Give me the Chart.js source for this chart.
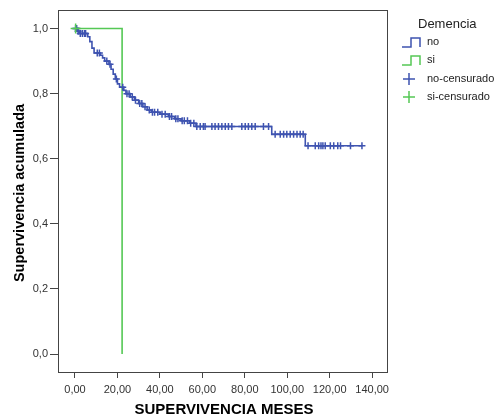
<!DOCTYPE html>
<html>
<head>
<meta charset="utf-8">
<script src="https://cdn.jsdelivr.net/npm/chart.js@4.4.1/dist/chart.umd.min.js"></script>
<style>
  html, body { margin: 0; padding: 0; background: #fff; }
</style>
</head>
<body>
<canvas id="km" width="500" height="420"></canvas>
<script>
// Kaplan-Meier data (months, cumulative survival)
const noEventTimes = [0, 1, 2, 6, 7, 8, 9, 12, 13, 14, 16, 17, 18, 19, 20, 21, 23, 24, 26, 28, 30, 32, 34, 36, 40, 44, 47, 50, 54, 57, 92.7, 108.5];
const noSurvival   = [1.0, 0.992, 0.985, 0.975, 0.96, 0.94, 0.925, 0.918, 0.91, 0.90, 0.89, 0.875, 0.86, 0.845, 0.83, 0.82, 0.81, 0.80, 0.79, 0.78, 0.77, 0.76, 0.75, 0.743, 0.737, 0.73, 0.723, 0.717, 0.709, 0.699, 0.675, 0.640];
const noCensored = [
  0.3, 0.8, 1.5, 2.5, 3.5, 4.5, 5, 10.5, 11.5, 15, 16.5, 19.5, 22.5, 24.5, 25.5, 27, 28.5, 30.5, 31.5, 33, 35, 36.5,
  37.5, 39, 41, 42.5, 44.5, 45.5, 47.5, 48.5, 50.5, 51.5, 53, 54.5, 56,
  57.4, 59, 60.5, 61.3, 64.5, 66, 67.6, 69.2, 70.8, 72.3, 73.9, 78.6, 80.2, 81.7, 83.3, 84.9, 88.8, 91.2,
  94.3, 96.7, 98.3, 99.8, 101.4, 103, 104.6, 106.1, 107.5,
  109.8, 113.2, 114.8, 115.9, 116.8, 117.9, 120.3, 121.9, 123.8, 125.1, 129.8, 135.2
];
const siEventTimes = [0, 22.2];
const siSurvival   = [1.0, 0.0];
const siCensored   = [0.3];

const xTicks = [0, 20, 40, 60, 80, 100, 120, 140];
const yTicks = [0, 0.2, 0.4, 0.6, 0.8, 1.0];

const BLUE = '#3e53b0';
const GREEN = '#55c855';

const survivalAt = (times, surv, t) => {
  let s = surv[0];
  for (let i = 0; i < times.length; i++) {
    if (times[i] <= t) s = surv[i];
  }
  return s;
};

const stepPoints = (times, surv, end) => {
  const pts = times.map((t, i) => ({ x: t, y: surv[i] }));
  if (end !== undefined && end > times[times.length - 1]) {
    pts.push({ x: end, y: surv[surv.length - 1] });
  }
  return pts;
};

const censorPoints = (times, surv, cens) => cens.map(t => ({ x: t, y: survivalAt(times, surv, t) }));

const comma = (v, d) => v.toFixed(d).replace('.', ',');

// box around the plot, axis titles and SPSS-style legend
const decor = {
  id: 'decor',
  afterDraw: (chart) => {
    const { ctx, chartArea } = chart;
    ctx.save();
    ctx.strokeStyle = '#444';
    ctx.lineWidth = 1;
    ctx.strokeRect(chartArea.left + 0.5, chartArea.top + 0.5, chartArea.right - chartArea.left, chartArea.bottom - chartArea.top);

    ctx.fillStyle = '#000';
    ctx.textAlign = 'center';
    ctx.textBaseline = 'middle';
    ctx.font = 'bold 15px "Liberation Sans", Arial, sans-serif';
    ctx.fillText('SUPERVIVENCIA MESES', 224, 410);
    ctx.save();
    ctx.translate(20, 193);
    ctx.rotate(-Math.PI / 2);
    ctx.font = 'bold 14.5px "Liberation Sans", Arial, sans-serif';
    ctx.fillText('Supervivencia acumulada', 0, 0);
    ctx.restore();

    // legend
    ctx.fillStyle = '#222';
    ctx.font = '13px "Liberation Sans", Arial, sans-serif';
    ctx.textAlign = 'left';
    ctx.fillText('Demencia', 418, 24);
    ctx.font = '11px "Liberation Sans", Arial, sans-serif';
    const items = [
      { label: 'no', color: BLUE, kind: 'step', y: 42 },
      { label: 'si', color: GREEN, kind: 'step', y: 60 },
      { label: 'no-censurado', color: BLUE, kind: 'cross', y: 79 },
      { label: 'si-censurado', color: GREEN, kind: 'cross', y: 97 },
    ];
    items.forEach(it => {
      ctx.strokeStyle = it.color;
      ctx.lineWidth = 1.5;
      ctx.beginPath();
      if (it.kind === 'step') {
        ctx.moveTo(402, it.y + 5);
        ctx.lineTo(411, it.y + 5);
        ctx.lineTo(411, it.y - 4);
        ctx.lineTo(420, it.y - 4);
        ctx.lineTo(420, it.y + 5);
      } else {
        ctx.moveTo(403, it.y);
        ctx.lineTo(415, it.y);
        ctx.moveTo(409, it.y - 6);
        ctx.lineTo(409, it.y + 6);
      }
      ctx.stroke();
      ctx.fillStyle = '#222';
      ctx.fillText(it.label, 427, it.y);
    });
    ctx.restore();
  },
};

const lastNo = noCensored[noCensored.length - 1];

new Chart(document.getElementById('km'), {
  type: 'scatter',
  data: {
    datasets: [
      {
        label: 'no',
        data: stepPoints(noEventTimes, noSurvival, lastNo),
        showLine: true,
        stepped: true,
        borderColor: BLUE,
        borderWidth: 1.6,
        pointRadius: 0,
        order: 3,
      },
      {
        label: 'si',
        data: stepPoints(siEventTimes, siSurvival),
        showLine: true,
        stepped: true,
        borderColor: GREEN,
        borderWidth: 1.6,
        pointRadius: 0,
        order: 2,
      },
      {
        label: 'no-censurado',
        data: censorPoints(noEventTimes, noSurvival, noCensored),
        pointStyle: 'cross',
        pointRadius: 3.5,
        borderColor: BLUE,
        borderWidth: 1.5,
        order: 1,
      },
      {
        label: 'si-censurado',
        data: censorPoints(siEventTimes, siSurvival, siCensored),
        pointStyle: 'cross',
        pointRadius: 5,
        borderColor: GREEN,
        borderWidth: 1.5,
        order: 0,
      },
    ],
  },
  options: {
    responsive: false,
    animation: false,
    devicePixelRatio: 1,
    layout: { padding: { top: 10, right: 113, left: 0, bottom: 0 } },
    plugins: {
      legend: { display: false },
      tooltip: { enabled: false },
    },
    scales: {
      x: {
        type: 'linear',
        min: -8,
        max: 147,
        afterBuildTicks: (scale) => { scale.ticks = xTicks.map(v => ({ value: v })); },
        afterFit: (scale) => { scale.height = 48; },
        grid: { drawOnChartArea: false, tickLength: 6, color: '#444', tickColor: '#444' },
        border: { display: false },
        ticks: {
          color: '#333',
          font: { family: '"Liberation Sans", Arial, sans-serif', size: 11 },
          padding: 5,
          maxRotation: 0,
          autoSkip: false,
          callback: (v) => comma(v, 2),
        },
      },
      y: {
        min: -0.055,
        max: 1.057,
        afterBuildTicks: (scale) => { scale.ticks = yTicks.map(v => ({ value: v })); },
        afterFit: (scale) => { scale.width = 58; },
        grid: { drawOnChartArea: false, tickLength: 8, color: '#444', tickColor: '#444' },
        border: { display: false },
        ticks: {
          color: '#333',
          font: { family: '"Liberation Sans", Arial, sans-serif', size: 11 },
          padding: 2,
          callback: (v) => comma(v, 1),
        },
      },
    },
  },
  plugins: [decor],
});
</script>
</body>
</html>
